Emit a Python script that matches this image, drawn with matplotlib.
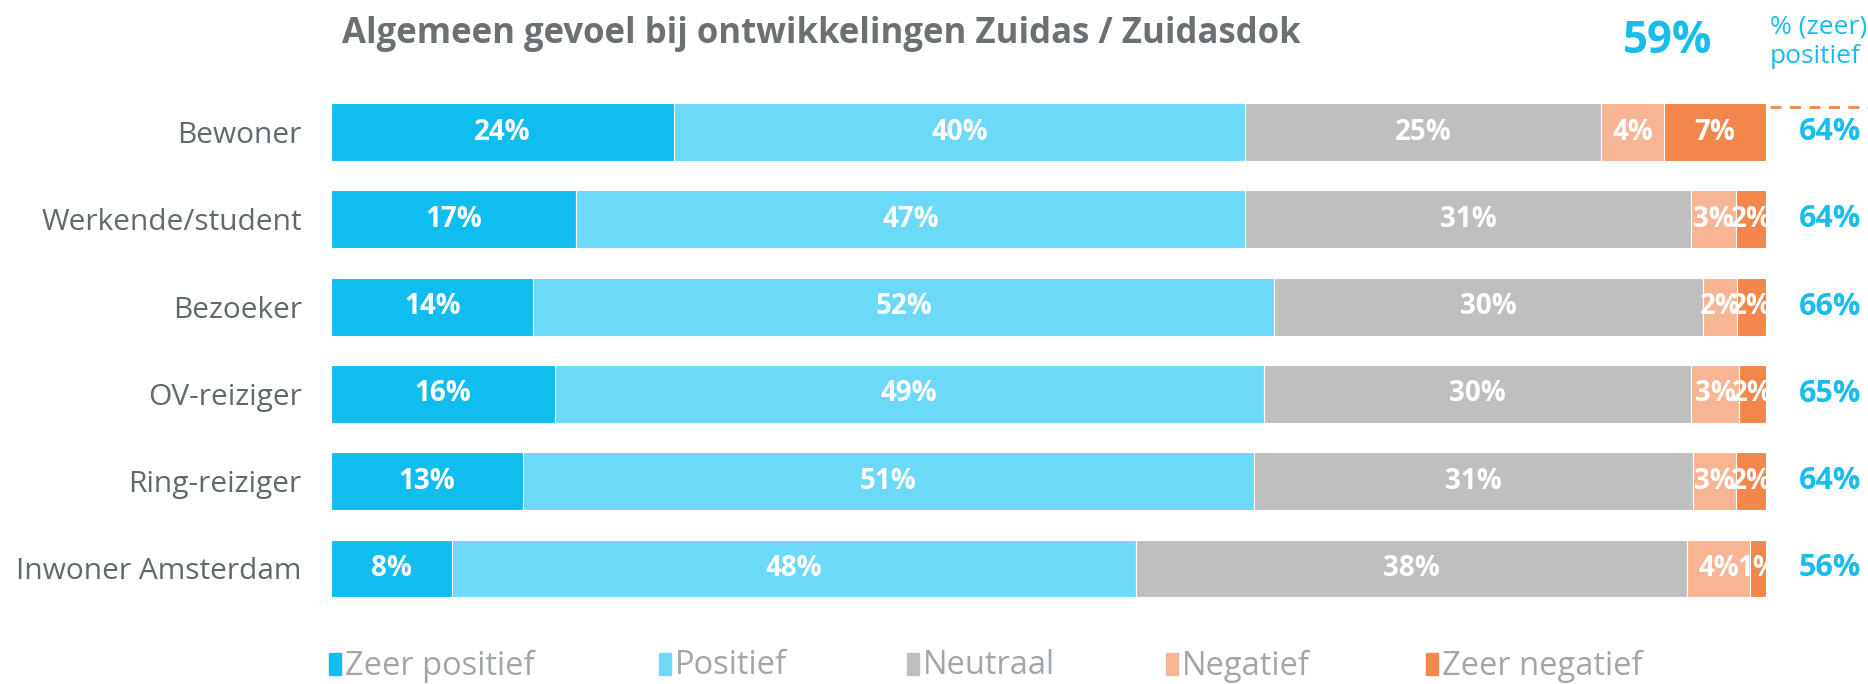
"""Algemeen gevoel bij ontwikkelingen Zuidas / Zuidasdok - stacked 100% bars."""
import matplotlib
matplotlib.use("Agg")
import matplotlib.pyplot as plt
from matplotlib.patches import Rectangle
from matplotlib.lines import Line2D

# --- data (percentages) ---
groups = ["Bewoner", "Werkende/student", "Bezoeker", "OV-reiziger",
          "Ring-reiziger", "Inwoner Amsterdam"]
answers = ["Zeer positief", "Positief", "Neutraal", "Negatief", "Zeer negatief"]
zeer_positief = [23.9, 17.1, 14.1, 15.6, 13.4, 8.4]
positief      = [39.8, 46.6, 51.6, 49.4, 50.9, 47.7]
neutraal      = [24.8, 31.1, 29.9, 29.8, 30.6, 38.4]
negatief      = [4.4, 3.1, 2.4, 3.3, 3.0, 4.4]
zeer_negatief = [7.1, 2.1, 2.0, 1.9, 2.1, 1.1]
total_positive = 59   # overall % (zeer) positief

COLORS = ["#0fbdee", "#6dd9f8", "#bfbfbf", "#f7b593", "#f2864c"]
CYAN = "#17bdeb"
GREY_TITLE = "#6b7173"
GREY_LABEL = "#5f6a6c"
GREY_LEGEND = "#a3a6a8"
FONT = "Open Sans"

W, H = 1868, 684
plt.rcParams["font.family"] = [FONT, "DejaVu Sans"]

fig = plt.figure(figsize=(W / 100, H / 100), dpi=100)
ax = fig.add_axes([331 / W, 1 - 612.15 / H, 1435 / W, 523.8 / H])

series = [zeer_positief, positief, neutraal, negatief, zeer_negatief]
ypos = list(range(len(groups)))
left = [0.0] * len(groups)
for vals, color in zip(series, COLORS):
    ax.barh(ypos, vals, left=left, height=0.664, color=color,
            edgecolor="white", linewidth=0.8)
    for i, v in enumerate(vals):
        ax.text(left[i] + v / 2, i, f"{v:.0f}%", ha="center", va="center",
                color="white", fontsize=20, fontweight="bold")
    left = [l + v for l, v in zip(left, vals)]

# (zeer) positief per group on the right
for i in ypos:
    ax.text(104.46, i, f"{zeer_positief[i] + positief[i]:.0f}%", ha="center",
            va="center", color=CYAN, fontsize=22, fontweight="bold",
            clip_on=False)

ax.set_xlim(0, 100)
ax.set_ylim(len(groups) - 0.5, -0.5)
ax.set_yticks(ypos)
ax.set_yticklabels(groups, fontsize=21.5, color=GREY_LABEL)
ax.tick_params(axis="y", length=0, pad=21)
ax.set_xticks([])
for s in ax.spines.values():
    s.set_visible(False)

# dashed marker line top right
fig.add_artist(Line2D([1770 / W, 1.0], [1 - 107 / H] * 2, color="#f2864c",
                      lw=2, ls=(0, (4, 3))))

fig.text(342 / W, 1 - 34.5 / H, "Algemeen gevoel bij ontwikkelingen Zuidas / Zuidasdok",
         ha="left", va="center", fontsize=25, fontweight="bold", color=GREY_TITLE)
fig.text(1668 / W, 1 - 53 / H, f"{total_positive}%", ha="center", va="baseline",
         fontsize=31.5, fontweight="bold", color=CYAN)
fig.text(1770 / W, 1 - 14 / H, "% (zeer)\npositief", ha="left", va="top",
         fontsize=19, color=CYAN, linespacing=1.28)

# legend
leg_x = [329, 659, 907, 1166, 1426]
for x, name, color in zip(leg_x, answers, COLORS):
    fig.add_artist(Rectangle((x / W, 1 - 675 / H), 12 / W, 22 / H,
                             color=color, transform=fig.transFigure))
    fig.text((x + 16) / W, 1 - 666 / H, name, ha="left", va="center",
             fontsize=23.5, color=GREY_LEGEND)

fig.savefig("out.png", dpi=100)
